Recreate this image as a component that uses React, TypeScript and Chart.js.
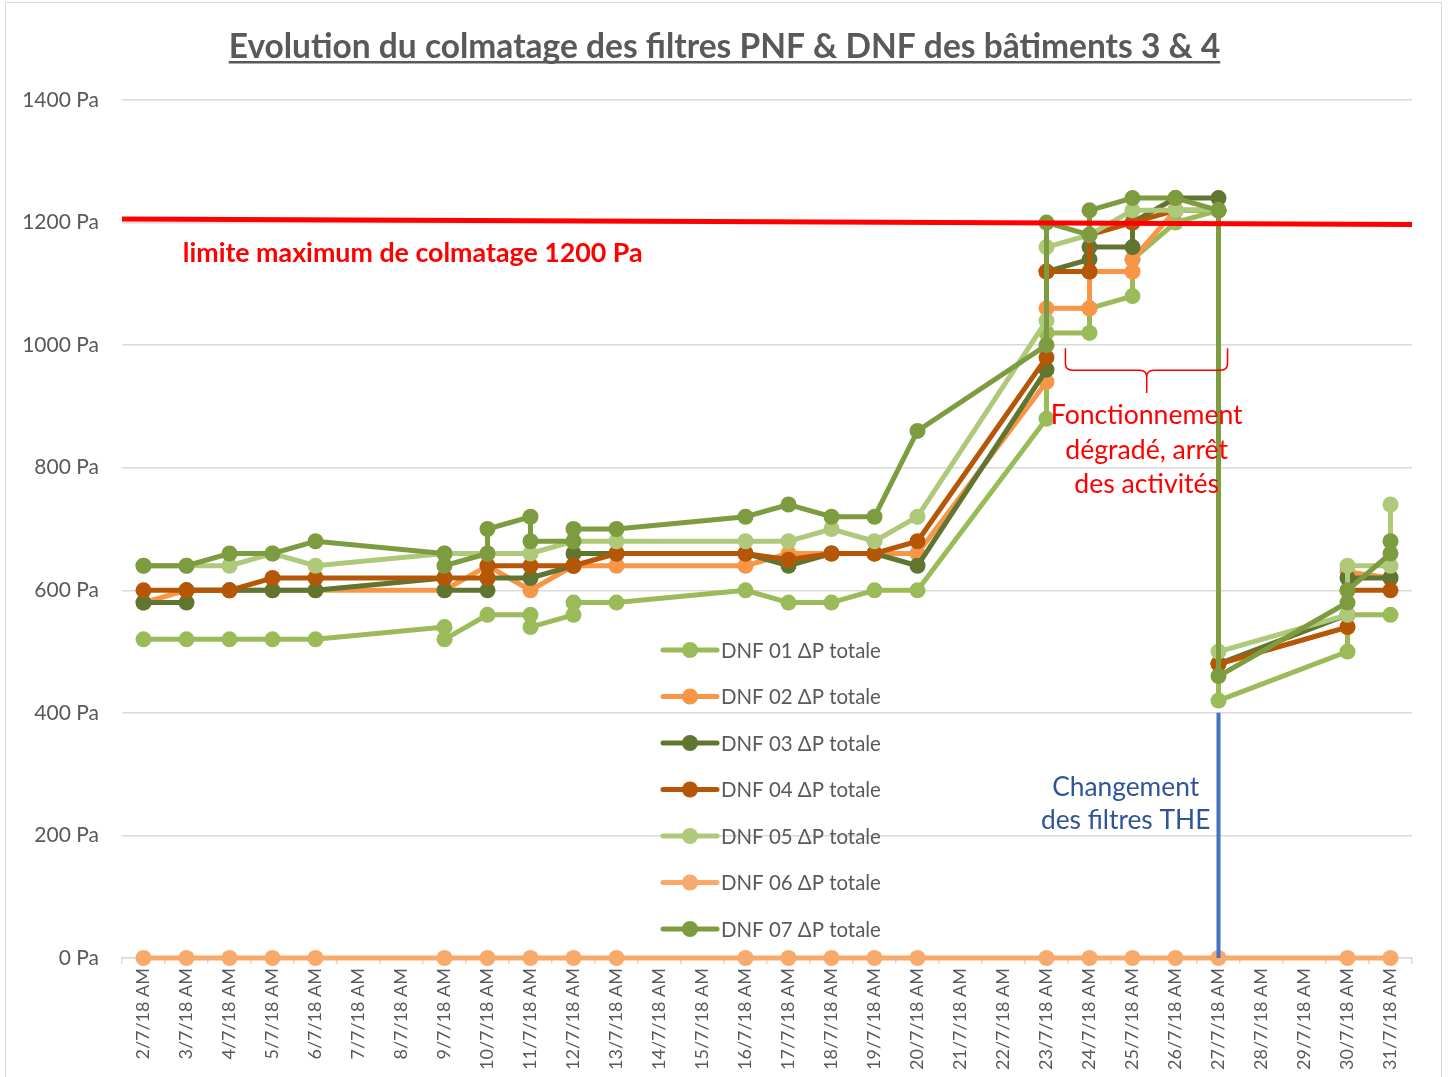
import React, { useEffect, useRef } from 'react';
import { Chart, registerables } from 'chart.js';

Chart.register(...registerables);

// ---------- data ----------
const dateLabels = [
  '2/7/18 AM', '3/7/18 AM', '4/7/18 AM', '5/7/18 AM', '6/7/18 AM', '7/7/18 AM', '8/7/18 AM',
  '9/7/18 AM', '10/7/18 AM', '11/7/18 AM', '12/7/18 AM', '13/7/18 AM', '14/7/18 AM', '15/7/18 AM',
  '16/7/18 AM', '17/7/18 AM', '18/7/18 AM', '19/7/18 AM', '20/7/18 AM', '21/7/18 AM', '22/7/18 AM',
  '23/7/18 AM', '24/7/18 AM', '25/7/18 AM', '26/7/18 AM', '27/7/18 AM', '28/7/18 AM', '29/7/18 AM',
  '30/7/18 AM', '31/7/18 AM',
];
const firstDay = 2;

const yTickValues = [0, 200, 400, 600, 800, 1000, 1200, 1400];

const seriesNames = [
  'DNF 01 ΔP totale', 'DNF 02 ΔP totale', 'DNF 03 ΔP totale', 'DNF 04 ΔP totale',
  'DNF 05 ΔP totale', 'DNF 06 ΔP totale', 'DNF 07 ΔP totale',
];
const seriesColors = ['#9BBB59', '#F79646', '#5F7530', '#B65708', '#AFC97A', '#F8AA6B', '#7D9C3F'];

const dnf01Days = [2, 3, 4, 5, 6, 9, 9, 10, 11, 11, 12, 12, 13, 16, 17, 18, 19, 20, 23, 23, 24, 24, 25, 25, 26, 27, 27, 30, 30, 31];
const dnf01Values = [520, 520, 520, 520, 520, 540, 520, 560, 560, 540, 560, 580, 580, 600, 580, 580, 600, 600, 880, 1020, 1020, 1060, 1080, 1140, 1200, 1220, 420, 500, 560, 560];

const dnf02Days = [2, 3, 4, 5, 6, 9, 10, 11, 12, 13, 16, 17, 18, 19, 20, 23, 23, 24, 24, 25, 25, 26, 27, 27, 30, 30, 31];
const dnf02Values = [580, 600, 600, 600, 600, 600, 640, 600, 640, 640, 640, 660, 660, 660, 660, 940, 1060, 1060, 1120, 1120, 1140, 1220, 1220, 480, 540, 630, 620];

const dnf03Days = [2, 3, 3, 4, 5, 6, 9, 9, 10, 10, 11, 12, 12, 13, 16, 17, 18, 19, 20, 23, 23, 24, 24, 25, 25, 26, 27, 27, 30, 30, 31];
const dnf03Values = [580, 580, 600, 600, 600, 600, 620, 600, 600, 620, 620, 640, 660, 660, 660, 640, 660, 660, 640, 960, 1120, 1140, 1160, 1160, 1200, 1240, 1240, 480, 560, 620, 620];

const dnf04Days = [2, 3, 4, 5, 6, 9, 10, 10, 11, 12, 13, 16, 17, 18, 19, 20, 23, 23, 24, 24, 25, 26, 27, 27, 30, 30, 31];
const dnf04Values = [600, 600, 600, 620, 620, 620, 620, 640, 640, 640, 660, 660, 650, 660, 660, 680, 980, 1120, 1120, 1180, 1200, 1220, 1220, 480, 540, 600, 600];

const dnf05Days = [2, 3, 4, 5, 6, 9, 10, 11, 12, 13, 16, 17, 18, 19, 20, 23, 23, 24, 25, 26, 27, 27, 30, 30, 31, 31];
const dnf05Values = [640, 640, 640, 660, 640, 660, 660, 660, 680, 680, 680, 680, 700, 680, 720, 1040, 1160, 1180, 1220, 1220, 1220, 500, 560, 640, 640, 740];

const dnf06Days = [2, 3, 4, 5, 6, 9, 10, 11, 12, 13, 16, 17, 18, 19, 20, 23, 24, 25, 26, 27, 30, 31];
const dnf06Values = [0, 0, 0, 0, 0, 0, 0, 0, 0, 0, 0, 0, 0, 0, 0, 0, 0, 0, 0, 0, 0, 0];

const dnf07Days = [2, 3, 4, 5, 6, 9, 9, 10, 10, 11, 11, 12, 12, 13, 16, 17, 18, 19, 20, 23, 23, 24, 24, 25, 26, 27, 27, 30, 30, 31, 31];
const dnf07Values = [640, 640, 660, 660, 680, 660, 640, 660, 700, 720, 680, 680, 700, 700, 720, 740, 720, 720, 860, 1000, 1200, 1180, 1220, 1240, 1240, 1220, 460, 580, 600, 660, 680];

const seriesDays = [dnf01Days, dnf02Days, dnf03Days, dnf04Days, dnf05Days, dnf06Days, dnf07Days];
const seriesValues = [dnf01Values, dnf02Values, dnf03Values, dnf04Values, dnf05Values, dnf06Values, dnf07Values];

// annotations (values in Pa, positions in days)
const limitLine = [1206, 1197];
const filterChangeDay = 27;
const filterChangeRange = [400, 0];

// ---------- styling ----------
const FONT = 'Lato, "Open Sans", "DejaVu Sans", sans-serif';
const TEXT_GREY = '#595959';
const GRID = '#D9D9D9';

function fitSize(ctx: CanvasRenderingContext2D, text: string, weight: string, target: number) {
  ctx.font = `${weight} 100px ${FONT}`;
  const w = ctx.measureText(text).width;
  return (100 * target) / w;
}

const overlayPlugin = {
  id: 'overlay',
  afterDatasetsDraw(chart: any) {
    const { ctx, chartArea } = chart;
    const xs = chart.scales.x;
    const ys = chart.scales.y;
    const px = (day: number) => xs.getPixelForValue(day - firstDay);
    const py = (v: number) => ys.getPixelForValue(v);
    ctx.save();

    // red limit line
    ctx.strokeStyle = '#FF0000';
    ctx.lineWidth = 5;
    ctx.beginPath();
    ctx.moveTo(chartArea.left, py(limitLine[0]));
    ctx.lineTo(chartArea.right, py(limitLine[1]));
    ctx.stroke();

    // blue filter change line
    ctx.strokeStyle = '#4472C4';
    ctx.lineWidth = 4;
    ctx.beginPath();
    ctx.moveTo(px(filterChangeDay), py(filterChangeRange[0]));
    ctx.lineTo(px(filterChangeDay), py(filterChangeRange[1]));
    ctx.stroke();

    // bracket
    const L = px(23.44), R = px(27.21), C = px(25.33);
    const top = py(995), mid = py(959), tip = py(922);
    const r = 7;
    ctx.strokeStyle = '#FF0000';
    ctx.lineWidth = 1.5;
    ctx.beginPath();
    ctx.moveTo(L, top);
    ctx.lineTo(L, mid - r);
    ctx.quadraticCurveTo(L, mid, L + r, mid);
    ctx.lineTo(C - r, mid);
    ctx.quadraticCurveTo(C, mid, C, mid + r);
    ctx.lineTo(C, tip);
    ctx.moveTo(C, mid + r);
    ctx.quadraticCurveTo(C, mid, C + r, mid);
    ctx.lineTo(R - r, mid);
    ctx.quadraticCurveTo(R, mid, R, mid - r);
    ctx.lineTo(R, top);
    ctx.stroke();

    // texts
    ctx.textAlign = 'center';
    ctx.textBaseline = 'middle';
    let s = fitSize(ctx, 'limite maximum de colmatage 1200 Pa', 'bold', 460);
    ctx.font = `bold ${s}px ${FONT}`;
    ctx.fillStyle = '#FF0000';
    ctx.fillText('limite maximum de colmatage 1200 Pa', px(8.26), py(1150));

    s = fitSize(ctx, 'Fonctionnement', 'normal', 192);
    ctx.font = `normal ${s}px ${FONT}`;
    ctx.fillText('Fonctionnement', px(25.33), py(886));
    ctx.fillText('dégradé, arrêt', px(25.33), py(829));
    ctx.fillText('des activités', px(25.33), py(772));

    s = fitSize(ctx, 'Changement', 'normal', 147);
    ctx.font = `normal ${s}px ${FONT}`;
    ctx.fillStyle = '#2F5597';
    ctx.fillText('Changement', px(24.84), py(279));
    ctx.fillText('des filtres THE', px(24.84), py(224));

    // legend
    const lx = chartArea.left + 541;
    const ly = chartArea.top + 550;
    const step = 46.5;
    s = fitSize(ctx, seriesNames[0], 'normal', 160);
    chart.data.datasets.forEach((ds: any, i: number) => {
      const yy = ly + i * step;
      ctx.strokeStyle = ds.borderColor;
      ctx.lineWidth = 5;
      ctx.lineCap = 'round';
      ctx.beginPath();
      ctx.moveTo(lx, yy);
      ctx.lineTo(lx + 54, yy);
      ctx.stroke();
      ctx.fillStyle = ds.borderColor;
      ctx.beginPath();
      ctx.arc(lx + 27, yy, 8, 0, Math.PI * 2);
      ctx.fill();
      ctx.font = `normal ${s}px ${FONT}`;
      ctx.fillStyle = TEXT_GREY;
      ctx.textAlign = 'left';
      ctx.fillText(ds.label, lx + 58, yy + 1);
    });
    ctx.restore();
  },
  afterDraw(chart: any) {
    const { ctx, width } = chart;
    const title = 'Evolution du colmatage des filtres PNF & DNF des bâtiments 3 & 4';
    ctx.save();
    const s = fitSize(ctx, title, 'bold', 992);
    ctx.font = `bold ${s}px ${FONT}`;
    ctx.fillStyle = TEXT_GREY;
    ctx.textAlign = 'center';
    ctx.textBaseline = 'alphabetic';
    const cx = width / 2;
    ctx.fillText(title, cx, 58);
    const w = ctx.measureText(title).width;
    ctx.fillRect(cx - w / 2, 61, w, 2.5);
    ctx.restore();
  },
};

export default function App() {
  const ref = useRef<HTMLCanvasElement>(null);

  useEffect(() => {
    const datasets = seriesNames.map((name, i) => ({
      label: name,
      data: seriesDays[i].map((d, k) => ({ x: dateLabels[d - firstDay], y: seriesValues[i][k] })),
      borderColor: seriesColors[i],
      backgroundColor: seriesColors[i],
      pointBackgroundColor: seriesColors[i],
      pointBorderWidth: 0,
      pointRadius: 8,
      pointHoverRadius: 8,
      borderWidth: 5,
      tension: 0,
      fill: false,
      clip: false,
      order: seriesNames.length - 1 - i,
    }));

    const chart = new Chart(ref.current as HTMLCanvasElement, {
      type: 'line',
      data: { labels: dateLabels, datasets },
      options: {
        responsive: false,
        animation: false,
        devicePixelRatio: 1,
        layout: { padding: { top: 100, right: 37, bottom: 0, left: 0 } },
        plugins: {
          legend: { display: false },
          tooltip: { enabled: false },
          title: { display: false },
        },
        scales: {
          x: {
            type: 'category',
            offset: true,
            grid: {
              display: true,
              drawOnChartArea: false,
              drawTicks: true,
              tickLength: 6,
              offset: true,
              color: GRID,
              lineWidth: 1.5,
            },
            border: { display: true, color: GRID, width: 1.5 },
            ticks: {
              autoSkip: false,
              minRotation: 90,
              maxRotation: 90,
              padding: 4,
              color: TEXT_GREY,
              font: { family: FONT, size: 18 },
            },
            afterFit: (scale: any) => {
              scale.height = 119;
            },
          },
          y: {
            type: 'linear',
            min: 0,
            max: 1400,
            grid: { color: GRID, lineWidth: 1.5, drawTicks: false },
            border: { display: false },
            afterBuildTicks: (scale: any) => {
              scale.ticks = yTickValues.map((v) => ({ value: v }));
            },
            ticks: {
              padding: 23,
              color: TEXT_GREY,
              font: { family: FONT, size: 21 },
              callback: (v: any) => `${v} Pa`,
            },
            afterFit: (scale: any) => {
              scale.width = 122;
            },
          },
        },
      },
      plugins: [overlayPlugin],
    } as any);
    return () => chart.destroy();
  }, []);

  return (
    <div
      style={{
        position: 'fixed',
        left: 0,
        top: 0,
        width: 1449,
        height: 1077,
        background: '#ffffff',
        overflow: 'hidden',
      }}
    >
      <div
        style={{
          position: 'absolute',
          left: 5,
          top: 2,
          width: 1437,
          height: 1200,
          border: `1px solid ${GRID}`,
          boxSizing: 'border-box',
        }}
      />
      <canvas
        ref={ref}
        width={1449}
        height={1077}
        style={{ position: 'absolute', left: 0, top: 0, width: 1449, height: 1077 }}
      />
    </div>
  );
}
